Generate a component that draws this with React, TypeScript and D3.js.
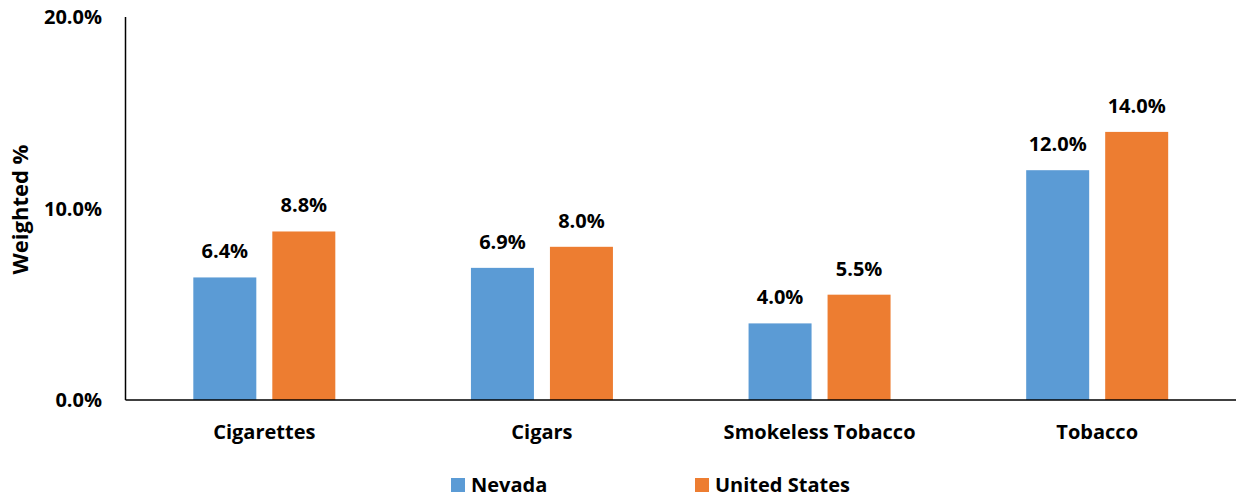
import React from "react";
import * as d3 from "d3";

const categories = ["Cigarettes", "Cigars", "Smokeless Tobacco", "Tobacco"];
const seriesNames = ["Nevada", "United States"];
const nevada = [6.4, 6.9, 4.0, 12.0];
const unitedStates = [8.8, 8.0, 5.5, 14.0];
const yTicks = [0, 10, 20];
const colors = ["#5B9BD5", "#ED7D31"];

const W = 1238;
const H = 497;
const FONT = "'Open Sans', sans-serif";

export default function App() {
  const left = 125.5;
  const right = 1236;
  const top = 17;
  const bottom = 400;
  const x = d3.scaleBand<string>().domain(categories).range([left, right]);
  const y = d3.scaleLinear().domain([0, 20]).range([bottom, top]);
  const barW = 63;
  const gap = 16;
  const series = [nevada, unitedStates];
  const fs = 20;

  return (
    <svg width={W} height={H} style={{ position: "absolute", left: 0, top: 0, background: "#fff" }} fontFamily={FONT}>
      {categories.map((c, i) => {
        const cx = (x(c) as number) + x.bandwidth() / 2;
        return (
          <g key={c}>
            {series.map((s, j) => {
              const bx = j === 0 ? cx - gap / 2 - barW : cx + gap / 2;
              return (
                <g key={j}>
                  <rect x={bx} y={y(s[i])} width={barW} height={bottom - y(s[i])} fill={colors[j]} />
                  <text x={bx + barW / 2} y={y(s[i]) - 19} textAnchor="middle" fontWeight="bold" fontSize={fs} fill="#000">
                    {s[i].toFixed(1) + "%"}
                  </text>
                </g>
              );
            })}
            <text x={cx} y={439} textAnchor="middle" fontWeight="bold" fontSize={fs} fill="#000">{c}</text>
          </g>
        );
      })}
      <line x1={left} x2={left} y1={top} y2={bottom} stroke="#000" strokeWidth={1.5} />
      <line x1={left} x2={right} y1={bottom} y2={bottom} stroke="#000" strokeWidth={1.5} />
      {yTicks.map((t) => (
        <text key={t} x={102} y={y(t) + 7} textAnchor="end" fontWeight="bold" fontSize={fs} fill="#000">
          {t.toFixed(1) + "%"}
        </text>
      ))}
      <text transform={`translate(28,${(top + bottom) / 2 + 1}) rotate(-90)`} textAnchor="middle" fontWeight="bold" fontSize={22} fill="#000">
        Weighted %
      </text>
      {seriesNames.map((n, j) => {
        const lx = j === 0 ? 451 : 695;
        return (
          <g key={n}>
            <rect x={lx} y={478} width={14} height={14} fill={colors[j]} />
            <text x={lx + 20} y={492} fontWeight="bold" fontSize={fs} fill="#000">{n}</text>
          </g>
        );
      })}
    </svg>
  );
}
